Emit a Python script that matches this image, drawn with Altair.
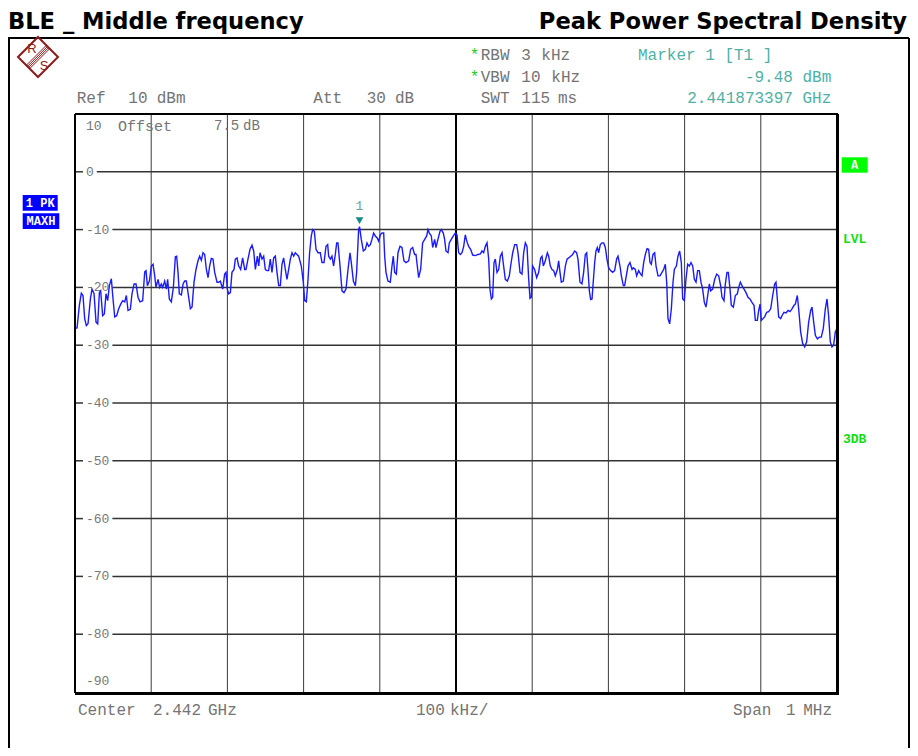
import altair as alt
import pandas as pd

# ------------------------------------------------------------------ data
CENTER_GHZ = 2.442
F_MIN, F_MAX = -500, 500          # frequency offset from centre, kHz
REF_DBM, BOTTOM_DBM = 10, -90

FREQ_KHZ = [
    -500, -497.3, -494.3, -491.7, -489.5, -487.3, -485.1, -482.9, -479.8, -477.7,
    -475.0, -472.4, -470.2, -468.0, -466.3, -463.7, -461.5, -459.3, -457.1, -454.9,
    -452.3, -450.5, -447.9, -445.3, -442.7, -440.0, -437.4, -434.8, -432.6, -430.4,
    -427.4, -425.2, -422.5, -419.9, -417.3, -414.7, -411.2, -408.5, -406.8, -405.0,
    -402.4, -399.8, -397.6, -395.4, -393.7, -391.0, -388.9, -386.7, -384.9, -382.3,
    -380.1, -378.4, -376.2, -373.6, -370.9, -368.3, -366.6, -364.8, -363.1, -360.4,
    -358.2, -356.1, -353.9, -351.7, -348.6, -346.4, -343.8, -341.2, -338.6, -336.4,
    -334.2, -332.0, -329.8, -327.6, -325.4, -323.3, -321.1, -318.9, -316.7, -313.6,
    -311.4, -309.3, -306.2, -303.6, -301.8, -300.1, -298.3, -296.1, -294.0, -291.3,
    -289.6, -287.4, -285.2, -282.6, -280.0, -277.3, -275.6, -273.0, -270.3, -267.7,
    -265.5, -263.3, -260.7, -258.9, -257.2, -254.6, -252.4, -250.2, -248.0,
    -245.9, -243.7, -241.5, -239.3, -237.1, -234.9, -232.7, -230.5, -228.4, -226.2,
    -224.0, -221.8, -219.6, -217.4, -215.2, -213.0, -210.9, -208.7, -206.5, -203.0,
    -200.4, -198.6, -196.4, -194.2, -192.1, -189.9, -188.1, -185.9, -183.7, -181.1,
    -178.1, -175.9, -173.2, -170.6, -168.4, -167.1, -164.9, -162.8, -160.6, -158.4,
    -156.6, -154.9, -152.2, -149.6, -147.0, -144.4, -141.7, -139.1, -137.4, -134.7,
    -132.1, -130.4, -127.8, -126.6, -124.3, -121.6, -119.0, -116.8, -114.6, -112.4,
    -110.3, -108.1, -105.9, -103.7, -101.5, -99.3, -97.1, -94.9, -93.6, -91.9,
    -89.3, -86.2, -84.0, -82.3, -80.5, -78.3, -76.1, -73.5, -70.9, -68.3,
    -65.6, -62.1, -59.5, -56.9, -54.3, -52.5, -50.8, -49.0, -46.4, -43.8,
    -41.1, -38.5, -36.8, -35.0, -32.4, -30.6, -28.0, -26.3, -23.7, -21.0,
    -19.3, -16.7, -14.9, -13.2, -10.5, -8.8, -6.2, -3.5, -0.9, 1.3,
    3.5, 5.7, 7.9, 10.1, 12.2, 13.6, 14.9, 16.6, 19.2, 21.9,
    25.4, 28.9, 32.0, 34.1, 36.3, 38.5, 40.7, 42.9, 44.6, 46.4,
    48.1, 49.9, 51.6, 53.8, 56.0, 58.2, 60.4, 62.5, 64.7, 67.4,
    70.0, 71.7, 74.4, 77.0, 79.6, 81.4, 84.0, 86.6, 88.8, 91.0,
    93.2, 95.4, 97.1, 98.9, 100.6, 103.2, 105.9, 108.5, 111.1, 112.9,
    114.6, 117.2, 119.9, 121.6, 123.8, 126.0, 128.2, 130.3, 133.0, 134.7,
    136.5, 138.2, 140.8, 143.5, 145.7, 147.8, 150.5, 153.1, 155.7, 158.3,
    160.1, 162.7, 165.3, 167.5, 169.7, 171.5, 173.2, 175.0, 176.7, 178.5,
    180.2, 182.0, 183.7, 185.5, 187.2, 189.4, 191.6, 193.8, 196.0, 198.1,
    200.3, 202.9, 205.6, 208.2, 210.8, 212.6, 215.2, 217.0, 219.6, 221.3,
    223.1, 225.7, 228.3, 231.0, 232.7, 235.3, 237.1, 239.7, 242.3, 244.1,
    246.3, 248.5, 250.7, 252.8, 254.6, 256.3, 258.5, 260.7, 262.5, 265.1,
    267.7, 270.3, 272.5, 274.7, 276.5, 278.2, 280.4, 282.6, 284.8, 286.5,
    289.2, 291.3, 293.5, 295.7, 297.5, 299.6, 301.8, 304.0, 306.2, 308.4,
    310.6, 312.8, 315.0, 317.1, 319.3, 321.5, 323.7, 325.9, 328.1, 330.3,
    332.5, 334.2, 336.8, 339.5, 342.1, 344.7, 347.3, 349.1, 351.7, 353.5,
    355.6, 357.4, 359.6, 361.3, 364.0, 366.6, 369.2, 371.0, 373.1, 375.3,
    378.0, 380.6, 383.2, 385.8, 388.4, 391.1, 392.8, 395.4, 397.2, 399.0,
    400.7, 402.9, 405.1, 407.7, 410.3, 413.0, 415.6, 418.2, 419.9, 421.7,
    423.4, 426.1, 427.8, 430.4, 433.1, 435.7, 438.3, 440.9, 443.6, 445.3,
    447.9, 449.7, 452.3, 454.9, 457.6, 460.2, 462.8, 465.4, 467.2, 469.4,
    471.6, 474.2, 476.8, 479.4, 482.0, 484.7, 486.9, 489.0, 491.2, 493.4,
    495.6, 497.8, 500.0,
]

LEVEL_DBM = [
    -27.1, -27.0, -23.1, -21.0, -21.4, -25.4, -26.6, -26.3, -22.0, -20.3,
    -21.1, -26.0, -26.3, -20.9, -20.6, -24.9, -24.6, -21.1, -22.3, -19.7,
    -18.5, -21.4, -25.1, -24.9, -23.7, -22.9, -22.3, -22.5, -21.4, -24.0,
    -23.8, -21.1, -19.4, -19.4, -21.7, -22.5, -22.3, -17.3, -17.1, -19.7,
    -18.9, -16.3, -16.0, -18.0, -20.0, -18.6, -20.0, -19.4, -20.0, -18.9,
    -20.3, -18.6, -22.0, -22.5, -20.0, -14.7, -14.6, -17.4, -21.1, -21.3,
    -19.4, -18.9, -18.9, -20.9, -23.7, -23.4, -19.1, -16.9, -15.4, -14.6,
    -15.3, -14.0, -14.3, -16.9, -18.3, -16.3, -15.0, -15.1, -17.4, -19.1,
    -19.1, -18.9, -20.3, -17.7, -17.4, -20.3, -21.1, -20.9, -17.4, -16.9,
    -15.1, -14.9, -16.3, -16.9, -14.9, -16.9, -16.9, -15.1, -13.4, -12.7,
    -13.7, -16.9, -14.6, -16.3, -14.0, -15.1, -14.6, -16.9, -17.1,
    -17.1, -15.1, -17.4, -14.9, -14.6, -17.4, -19.7, -19.7, -16.0, -14.9,
    -16.9, -18.6, -16.9, -15.1, -14.0, -14.6, -14.0, -14.3, -14.6, -16.3,
    -19.1, -22.3, -22.5, -18.6, -14.0, -11.1, -10.0, -10.3, -13.4, -14.0,
    -14.0, -15.7, -15.7, -12.9, -12.6, -14.6, -15.1, -14.6, -16.3, -14.3,
    -12.3, -12.3, -16.3, -20.6, -20.9, -20.3, -16.9, -14.0, -15.7, -18.9,
    -19.7, -17.4, -10.0, -9.48, -11.7, -13.7, -13.4, -12.3, -12.9, -12.6,
    -11.7, -10.6, -11.1, -11.4, -12.0, -10.9, -10.6, -10.6, -14.6, -17.4,
    -18.9, -19.1, -16.3, -14.6, -17.4, -17.7, -14.0, -12.9, -13.1, -15.4,
    -15.7, -15.4, -13.4, -13.1, -14.3, -14.3, -16.3, -18.3, -16.9, -12.3,
    -11.7, -11.1, -10.0, -10.6, -11.1, -13.1, -11.7, -13.1, -11.7, -10.3,
    -10.0, -10.6, -11.7, -13.7, -14.0, -12.3, -11.7, -11.1, -10.6, -10.9,
    -14.0, -14.3, -14.0, -12.9, -10.9, -11.7, -12.3, -12.9, -13.4, -14.4,
    -14.5, -14.3, -14.2, -13.7, -14.0, -12.9, -12.3, -15.1, -20.3, -22.0,
    -21.7, -15.7, -15.1, -17.4, -16.9, -14.6, -14.0, -16.3, -18.6, -18.9,
    -18.0, -16.3, -14.0, -12.6, -12.6, -14.0, -17.4, -17.7, -14.0, -12.3,
    -12.9, -18.6, -21.9, -21.7, -16.3, -16.9, -18.3, -17.4, -14.9, -14.6,
    -16.3, -15.4, -14.0, -14.6, -16.3, -16.9, -17.1, -18.0, -16.9, -15.4,
    -17.4, -19.1, -18.9, -16.3, -15.1, -14.9, -14.6, -14.3, -13.7, -14.0,
    -15.1, -19.1, -19.4, -17.4, -14.3, -14.0, -16.9, -20.6, -22.1, -22.0,
    -18.9, -15.7, -13.7, -13.1, -14.0, -12.6, -12.3, -12.3, -13.1, -15.1,
    -16.6, -17.1, -17.4, -17.1, -15.1, -14.6, -16.3, -18.0, -19.7, -19.7,
    -18.3, -16.3, -15.7, -16.9, -16.6, -16.9, -18.0, -17.1, -17.7, -18.0,
    -15.7, -14.3, -13.3, -13.4, -15.7, -16.0, -14.3, -14.0, -16.3, -18.0,
    -18.0, -17.4, -16.9, -16.0, -19.1, -25.4, -26.3, -23.7, -19.1, -16.9,
    -16.3, -14.6, -13.7, -15.7, -22.0, -22.3, -18.6, -16.0, -16.3, -15.7,
    -16.3, -18.6, -19.1, -17.1, -17.1, -19.1, -20.3, -22.6, -23.4, -21.4,
    -19.4, -20.6, -20.3, -18.6, -17.7, -18.0, -19.7, -21.7, -22.3, -19.4,
    -17.4, -17.4, -20.3, -23.1, -23.4, -21.4, -21.1, -20.0, -19.1, -19.7,
    -20.3, -20.9, -21.7, -22.0, -22.6, -23.1, -25.7, -25.7, -24.0, -22.9,
    -25.7, -25.4, -25.1, -24.3, -24.2, -23.7, -21.4, -19.4, -19.1, -22.0,
    -25.1, -25.4, -24.9, -24.3, -24.4, -24.0, -24.2, -23.7, -23.1, -22.9,
    -21.4, -23.7, -27.7, -29.7, -30.3, -29.4, -26.0, -24.0, -23.4, -26.0,
    -28.3, -28.9, -28.6, -28.6, -27.1, -23.7, -22.0, -24.9, -29.4, -30.3,
    -30.0, -27.7, -27.1,
]

MARKER_FREQ_GHZ = 2.441873397
MARKER_LEVEL_DBM = -9.48

Y_GRID = [0, -10, -20, -30, -40, -50, -60, -70, -80]
X_GRID = [-400, -300, -200, -100, 100, 200, 300, 400]

# ------------------------------------------------------------------ layout / style
W, H = 762, 578
PAD = {"left": 67, "top": 106, "right": 73, "bottom": 56}
KHZ_PER_PX = (F_MAX - F_MIN) / W
MONO = "Liberation Mono"
TITLE_FONT = "DejaVu Sans"
SANS = "Liberation Sans"
GRAY = "#747474"
TEAL = "#4fb0a6"
GREEN = "#22cc22"
DARKRED = "#8b1c1c"

xs = alt.Scale(domain=[F_MIN, F_MAX], nice=False, zero=False)
ys = alt.Scale(domain=[BOTTOM_DBM, REF_DBM], nice=False, zero=False)
one = pd.DataFrame({"k": [0]})


def X(field):
    return alt.X(field, type="quantitative", scale=xs, axis=None)


def Y(field):
    return alt.Y(field, type="quantitative", scale=ys, axis=None)


def text(s, x, y, color=GRAY, size=16, align="left", font=MONO, weight="normal",
         baseline="middle"):
    return alt.Chart(one).mark_text(
        text=s, align=align, baseline=baseline, font=font, fontSize=size,
        fontWeight=weight, color=color).encode(x=alt.value(x), y=alt.value(y))


def box(x1, x2, y1, y2, color):
    return alt.Chart(one).mark_rect(color=color).encode(
        x=alt.value(x1), x2=alt.value(x2), y=alt.value(y1), y2=alt.value(y2))


def seg(x1, y1, x2, y2, color="black", w=1.0):
    return alt.Chart(one).mark_rule(color=color, strokeWidth=w).encode(
        x=alt.value(x1), y=alt.value(y1), x2=alt.value(x2), y2=alt.value(y2))


layers = []

# vertical grid
layers.append(alt.Chart(pd.DataFrame({"f": X_GRID})).mark_rule(
    color="#3a3a3a", strokeWidth=1).encode(x=X("f")))
layers.append(alt.Chart(pd.DataFrame({"f": [0]})).mark_rule(
    color="black", strokeWidth=2).encode(x=X("f")))

# horizontal grid with a gap for its label
labels = [str(v) for v in Y_GRID]
hdf = pd.DataFrame({
    "db": Y_GRID,
    "lab": labels,
    "x0": [F_MIN] * len(Y_GRID),
    "x1": [F_MIN + 8 * KHZ_PER_PX] * len(Y_GRID),
    "x2": [F_MIN + (14 + 7.8 * len(s)) * KHZ_PER_PX for s in labels],
    "x3": [F_MAX] * len(Y_GRID),
})
layers.append(alt.Chart(hdf).mark_rule(color="#333333", strokeWidth=1.5).encode(
    x=X("x0"), x2="x1", y=Y("db")))
layers.append(alt.Chart(hdf).mark_rule(color="#333333", strokeWidth=1.5).encode(
    x=X("x2"), x2="x3", y=Y("db")))
layers.append(alt.Chart(hdf).mark_text(
    align="left", baseline="middle", font=MONO, fontSize=13, color="#777777").encode(
    x=alt.value(11), y=Y("db"), text="lab:N"))
layers.append(alt.Chart(pd.DataFrame({"db": [BOTTOM_DBM], "lab": [str(BOTTOM_DBM)]})).mark_text(
    align="left", baseline="middle", font=MONO, fontSize=13, color="#777777", dy=-11).encode(
    x=alt.value(11), y=Y("db"), text="lab:N"))
layers.append(alt.Chart(pd.DataFrame({"db": [REF_DBM], "lab": [str(REF_DBM)]})).mark_text(
    align="left", baseline="middle", font=MONO, fontSize=13, color="#777777", dy=12).encode(
    x=alt.value(11), y=Y("db"), text="lab:N"))
layers.append(text("Offset", 43, 12, size=15))
layers.append(text("7.5", 139, 12, size=14))
layers.append(text("dB", 168, 12, size=14))

# trace
trace = pd.DataFrame({"f": FREQ_KHZ, "dbm": LEVEL_DBM})
layers.append(alt.Chart(trace).mark_line(color="#1a1aff", strokeWidth=1.4).encode(
    x=X("f"), y=Y("dbm")))

# marker
mk = pd.DataFrame({"f": [(MARKER_FREQ_GHZ - CENTER_GHZ) * 1e6], "dbm": [MARKER_LEVEL_DBM]})
layers.append(alt.Chart(mk).mark_point(shape="triangle-down", filled=True, color="#138a8a",
                                       opacity=1, size=60, yOffset=-6).encode(x=X("f"), y=Y("dbm")))
layers.append(alt.Chart(mk).mark_text(text="1", font=MONO, fontSize=13, color="#6aa5a0",
                                      dy=-21).encode(x=X("f"), y=Y("dbm")))

# plot border
layers.append(seg(0, 0, 0, H + 1, w=2))
layers.append(seg(0, 0, W + 1, 0, w=2))
layers.append(seg(W + 0.5, 0, W + 0.5, H + 3, w=3))
layers.append(seg(0, H + 1.5, W + 2, H + 1.5, w=3))

# outer frame
bottom_edge = H + PAD["bottom"]
right_edge = W + PAD["right"] - 1
layers.append(seg(-67, -76, right_edge, -76, w=2))
layers.append(seg(-66, -76, -66, bottom_edge, w=2))
layers.append(seg(right_edge, -76, right_edge, bottom_edge, w=2))

# titles
layers.append(text("BLE _ Middle frequency", -67, -85, color="black", size=22.6, font=TITLE_FONT,
                   weight="bold", baseline="alphabetic"))
layers.append(text("Peak Power Spectral Density", right_edge - 2, -85, color="black",
                   size=22.6, font=TITLE_FONT, weight="bold", baseline="alphabetic", align="right"))

# R&S logo
cx, cy = -37, -57
layers.append(alt.Chart(one).mark_point(shape="diamond", filled=False, color=DARKRED,
                                        strokeWidth=2, size=1600, opacity=1).encode(
    x=alt.value(cx), y=alt.value(cy)))
for d in [-2.4, -0.8, 0.8, 2.4]:
    s = d / 1.414
    layers.append(seg(cx - 10 + s, cy + 10 + s, cx + 10 + s, cy - 10 + s, color=DARKRED, w=1))
layers.append(text("R", cx - 6, cy - 8, color=DARKRED, size=13, font=SANS, align="center"))
layers.append(text("S", cx + 6, cy + 9, color=DARKRED, size=13, font=SANS, align="center"))

# header texts
r1, r2, r3 = -59, -37.3, -16.3
layers += [
    text("Ref", 1.7, r3), text("10", 53.3, r3), text("dBm", 81.7, r3),
    text("Att", 238.3, r3), text("30", 291.7, r3), text("dB", 320, r3),
    text("*", 394.7, r1, color=GREEN), text("RBW", 405.7, r1), text("3", 446.3, r1),
    text("kHz", 466.3, r1),
    text("*", 394.7, r2, color=GREEN), text("VBW", 405.7, r2), text("10", 446.3, r2),
    text("kHz", 476.3, r2),
    text("SWT", 405.7, r3), text("115", 446.3, r3), text("ms", 483, r3),
    text("Marker 1 [T1 ]", 563, r1, color=TEAL),
    text(f"{MARKER_LEVEL_DBM:.2f} dBm", 756.3, r2, color=TEAL, align="right"),
    text(f"{MARKER_FREQ_GHZ:.9f} GHz", 756.3, r3, color=TEAL, align="right"),
]

# footer texts
fy = 596
layers += [
    text("Center", 3, fy), text(f"{CENTER_GHZ:.3f}", 78, fy), text("GHz", 133, fy),
    text("100", 341, fy), text("kHz/", 375, fy),
    text("Span", 658, fy), text("1", 711, fy), text("MHz", 757, fy, align="right"),
]

# trace / status boxes
layers += [
    box(-52.3, -17.3, 81, 96.7, "#0000ff"),
    text("1 PK", -34.8, 89, color="white", size=12, weight="bold", align="center"),
    box(-52.3, -15.7, 99.3, 115, "#0000ff"),
    text("MAXH", -34, 107.3, color="white", size=12, weight="bold", align="center"),
    box(766.7, 792.7, 43.3, 58.7, "#00ff00"),
    text("A", 779.7, 51, color="white", size=12, weight="bold", align="center"),
    text("LVL", 768, 125, color="#11dd11", size=13, weight="bold"),
    text("3DB", 768, 325, color="#11dd11", size=13, weight="bold"),
]

chart = alt.layer(*layers).properties(
    width=W, height=H,
    padding=PAD,
    autosize=alt.AutoSizeParams(type="none"),
    background="white",
).configure_view(strokeWidth=0)

chart.save("out.html", embed_options={"renderer": "svg", "actions": False})
